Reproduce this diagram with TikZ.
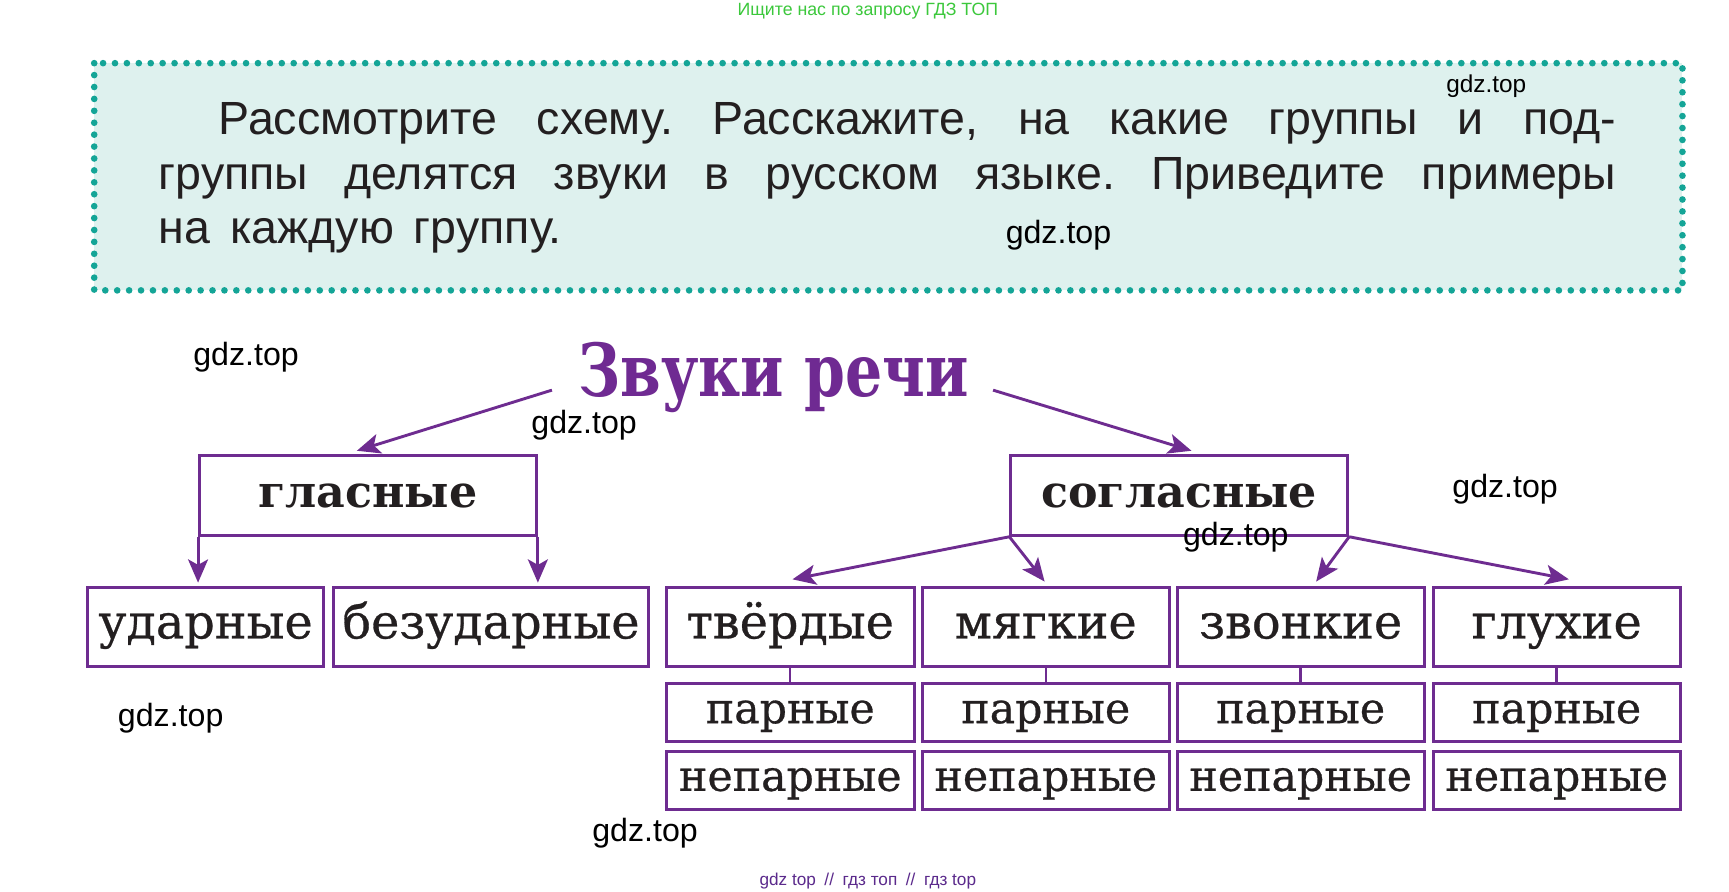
\documentclass[tikz,border=0pt]{standalone}
\usepackage{fontspec}
\setmainfont{DejaVu Serif}
\newfontfamily\boxf[FakeBold=0.6]{DejaVu Serif}
\newfontfamily\sansf{Liberation Sans}
\newfontfamily\titlef[FakeStretch=0.8]{DejaVu Serif Bold}
\usetikzlibrary{arrows.meta}
\frenchspacing
\definecolor{vio}{HTML}{6E2C90}
\definecolor{titlevio}{HTML}{6F2A92}
\definecolor{dotteal}{HTML}{14A597}
\definecolor{mint}{HTML}{DEF1EE}
\definecolor{wmgreen}{HTML}{3CC83C}
\definecolor{wmvio}{HTML}{5B2A8C}
\definecolor{ink}{HTML}{231F20}
\tikzset{
  box/.style={draw=vio, line width=2.6pt, inner sep=0pt, text=ink,
    font=\boxf\fontsize{43}{43}\selectfont, text height=21pt, text depth=0pt},
  bigbox/.style={box, minimum width=304pt, minimum height=72pt, font=\fontsize{40}{40}\selectfont\bfseries},
  rowbox/.style={box, minimum height=71pt},
  subbox/.style={box, minimum height=52pt, minimum width=224pt, font=\boxf\fontsize{38.5}{38.5}\selectfont, text height=19pt},
  arr/.style={draw=vio, line width=2.6pt, -{Stealth[length=21pt,width=18pt,inset=5pt]}},
  link/.style={draw=vio, line width=2.2pt},
  wm/.style={font=\sansf\fontsize{29}{29}\selectfont, text=black, inner sep=0pt},
  instr/.style={font=\sansf\fontsize{42}{42}\selectfont, text=ink, inner sep=0pt, anchor=base west}
}
\begin{document}
\begin{tikzpicture}[x=1pt,y=-1pt]
\useasboundingbox[fill=white] (0,0) rectangle (1560,804.8);
% top watermark
\node[font=\sansf\fontsize{16}{16}\selectfont, text=wmgreen, inner sep=0pt] (topwm) at (783,10) {Ищите нас по запросу ГДЗ ТОП};
% instruction box
\fill[mint] (85,57) rectangle (1518,262);
\draw[dotteal, line width=6pt, line cap=round, dash pattern=on 0pt off 10.75pt] (85,57) rectangle (1518,262);
\node[instr] (l1) at (197,121) {\makebox[1261pt][s]{Рассмотрите схему. Расскажите, на какие группы и под-}};
\node[instr] (l2) at (143,171) {\makebox[1315pt][s]{группы делятся звуки в русском языке. Приведите примеры}};
\node[instr] (l3) at (143,220) {на\hspace{18pt}каждую\hspace{18pt}группу.};
% title
\node[font=\titlef\fontsize{66}{66}\selectfont, text=titlevio, inner sep=0pt] (title) at (698,341) {Звуки речи};
\coordinate (tL) at (498,352);
\coordinate (tR) at (896,352);
% main boxes
\node[bigbox] (gl) at (332,447) {гласные};
\node[bigbox] (sg) at (1064,447) {согласные};
% row boxes
\node[rowbox, minimum width=213pt] (ud) at (185.5,565.5) {ударные};
\node[rowbox, minimum width=284pt] (bez) at (443,565.5) {безударные};
\node[rowbox, minimum width=224pt] (tv) at (713,565.5) {твёрдые};
\node[rowbox, minimum width=223pt] (mg) at (943.5,565.5) {мягкие};
\node[rowbox, minimum width=223pt] (zv) at (1173.5,565.5) {звонкие};
\node[rowbox, minimum width=223pt] (gh) at (1404.5,565.5) {глухие};
% sub boxes
\node[subbox] (tvp) at (713,643) {парные};
\node[subbox] (tvn) at (713,704) {непарные};
\node[subbox, minimum width=223pt] (mgp) at (943.5,643) {парные};
\node[subbox, minimum width=223pt] (mgn) at (943.5,704) {непарные};
\node[subbox, minimum width=223pt] (zvp) at (1173.5,643) {парные};
\node[subbox, minimum width=223pt] (zvn) at (1173.5,704) {непарные};
\node[subbox, minimum width=223pt] (ghp) at (1404.5,643) {парные};
\node[subbox, minimum width=223pt] (ghn) at (1404.5,704) {непарные};
% arrows
\draw[arr] (tL) -- ([xshift=-10pt,yshift=3pt]gl.north);
\draw[arr] (tR) -- ([xshift=11pt,yshift=3pt]sg.north);
\draw[arr] (gl.south west) -- ([yshift=3pt]gl.south west |- ud.north);
\draw[arr] (gl.south east) -- ([yshift=3pt]gl.south east |- bez.north);
\draw[arr] (sg.south west) -- ([xshift=2pt,yshift=6pt]tv.north);
\draw[arr] (sg.south west) -- ([xshift=-1pt,yshift=4pt]mg.north);
\draw[arr] (sg.south east) -- ([xshift=14pt,yshift=4pt]zv.north);
\draw[arr] (sg.south east) -- ([xshift=11pt,yshift=6pt]gh.north);
% links
\draw[link] (tv.south) -- (tvp.north);
\draw[link] (mg.south) -- (mgp.north);
\draw[link] (zv.south) -- (zvp.north);
\draw[link] (gh.south) -- (ghp.north);
% watermarks
\node[wm, font=\sansf\fontsize{22}{22}\selectfont] (w1) at (1341,78) {gdz.top};
\node[wm] (w2) at (955,212) {gdz.top};
\node[wm] (w3) at (222,322) {gdz.top};
\node[wm] (w4) at (527,384) {gdz.top};
\node[wm] (w5) at (1358,441) {gdz.top};
\node[wm] (w6) at (1115,485) {gdz.top};
\node[wm] (w7) at (154,648) {gdz.top};
\node[wm] (w8) at (582,752) {gdz.top};
\node[font=\sansf\fontsize{15.5}{15.5}\selectfont, text=wmvio, inner sep=0pt] (botwm) at (783,795) {gdz top\enspace//\enspace гдз топ\enspace//\enspace гдз top};
\end{tikzpicture}
\end{document}
